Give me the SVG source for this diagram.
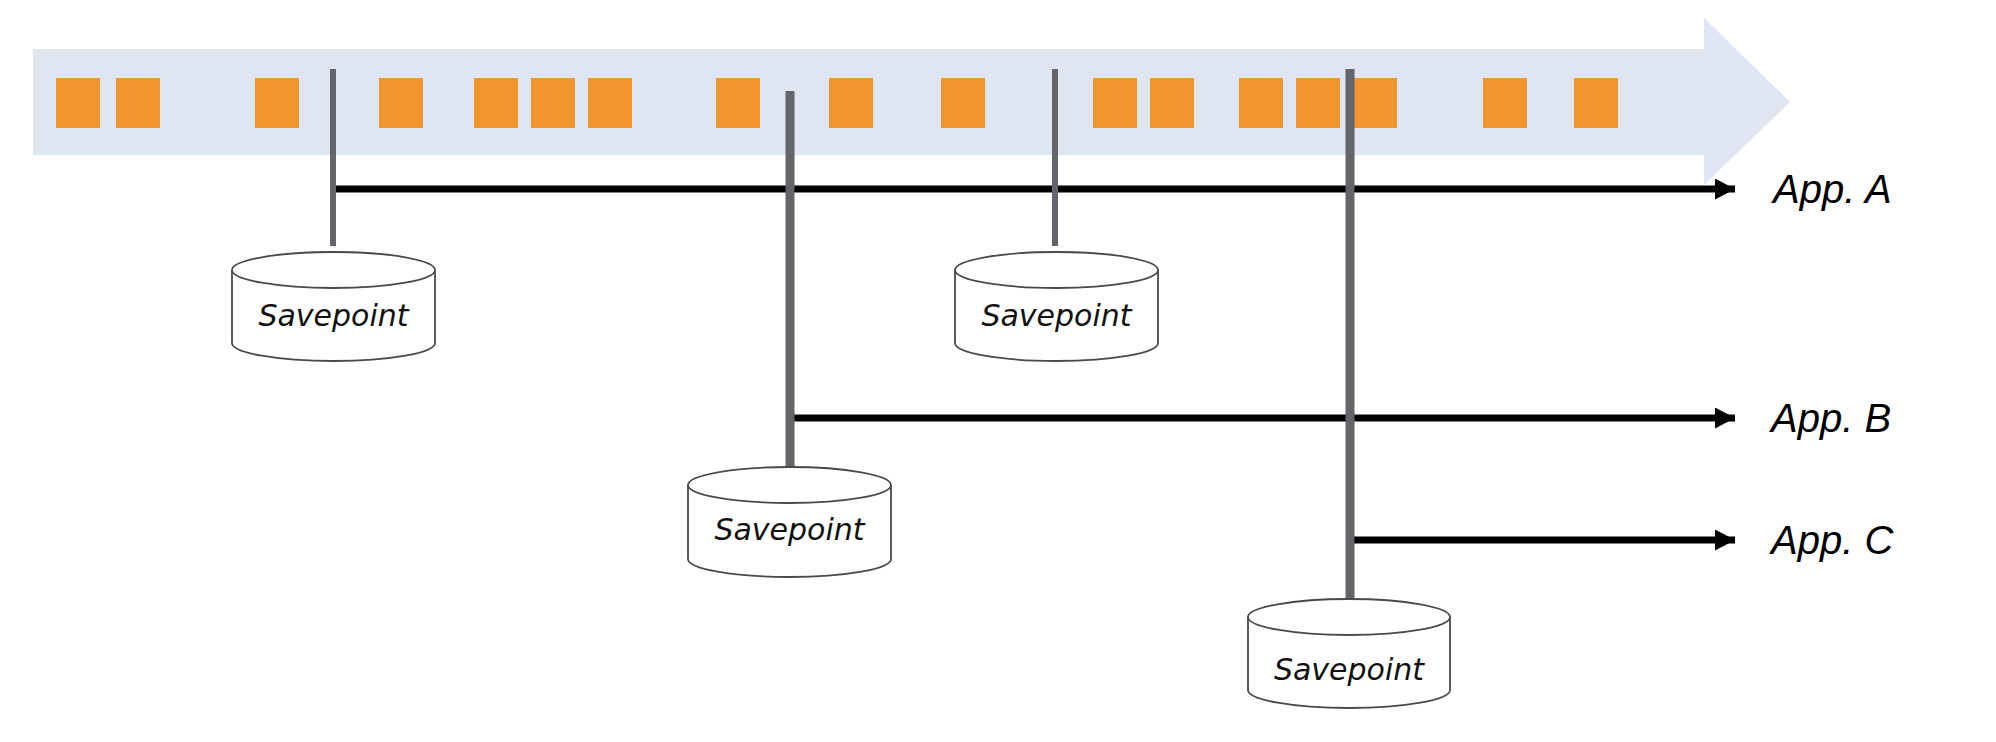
<svg xmlns="http://www.w3.org/2000/svg" width="1996" height="742" viewBox="0 0 1996 742">
<style>
.sq{fill:#f3952d}
.vl{stroke:#63656b;fill:none}
.hl{stroke:#000;stroke-width:7;fill:none}
.cyl{fill:#fff;stroke:#4a4a4a;stroke-width:1.8}
.sp{font-family:"DejaVu Sans",sans-serif;font-style:italic;font-size:30px;fill:#111;text-anchor:middle}
.app{font-family:"Liberation Sans",Arial,sans-serif;font-style:italic;font-size:40px;fill:#000}
</style>
<defs>
<marker id="ah" markerUnits="userSpaceOnUse" markerWidth="22" markerHeight="22" refX="20" refY="10.5" orient="auto">
<path d="M0,0 L20,10.5 L0,21 Z" fill="#000"/>
</marker>
</defs>
<rect width="1996" height="742" fill="#fff"/>
<g id="stream">
<path d="M33,49 L1704,49 L1704,18 L1790,102 L1704,185 L1704,155 L33,155 Z" fill="#dfe5f1"/>
<rect class="sq" x="56" y="78" width="44" height="50"/>
<rect class="sq" x="116" y="78" width="44" height="50"/>
<rect class="sq" x="255" y="78" width="44" height="50"/>
<rect class="sq" x="379" y="78" width="44" height="50"/>
<rect class="sq" x="474" y="78" width="44" height="50"/>
<rect class="sq" x="531" y="78" width="44" height="50"/>
<rect class="sq" x="588" y="78" width="44" height="50"/>
<rect class="sq" x="716" y="78" width="44" height="50"/>
<rect class="sq" x="829" y="78" width="44" height="50"/>
<rect class="sq" x="941" y="78" width="44" height="50"/>
<rect class="sq" x="1093" y="78" width="44" height="50"/>
<rect class="sq" x="1150" y="78" width="44" height="50"/>
<rect class="sq" x="1239" y="78" width="44" height="50"/>
<rect class="sq" x="1296" y="78" width="44" height="50"/>
<rect class="sq" x="1353" y="78" width="44" height="50"/>
<rect class="sq" x="1483" y="78" width="44" height="50"/>
<rect class="sq" x="1574" y="78" width="44" height="50"/>
</g>
<g id="connectors">
<line class="hl" x1="333" y1="189" x2="1735" y2="189" marker-end="url(#ah)"/>
<line class="hl" x1="790" y1="418" x2="1735" y2="418" marker-end="url(#ah)"/>
<line class="hl" x1="1350" y1="540" x2="1735" y2="540" marker-end="url(#ah)"/>
<line class="vl" x1="333" y1="69" x2="333" y2="246" stroke-width="6"/>
<line class="vl" x1="790" y1="91" x2="790" y2="467" stroke-width="9"/>
<line class="vl" x1="1055" y1="69" x2="1055" y2="246" stroke-width="6"/>
<line class="vl" x1="1350" y1="69" x2="1350" y2="599" stroke-width="9"/>
</g>
<g id="sp1">
<path class="cyl" d="M232,270 A101.5,18 0 0 1 435,270 L435,343 A101.5,18 0 0 1 232,343 Z"/>
<path class="cyl" d="M232,270 A101.5,18 0 0 0 435,270"/>
<text class="sp" x="333.5" y="326">Savepoint</text>
</g>
<g id="sp2">
<path class="cyl" d="M688,485 A101.5,18 0 0 1 891,485 L891,559 A101.5,18 0 0 1 688,559 Z"/>
<path class="cyl" d="M688,485 A101.5,18 0 0 0 891,485"/>
<text class="sp" x="789.5" y="540">Savepoint</text>
</g>
<g id="sp3">
<path class="cyl" d="M955,270 A101.5,18 0 0 1 1158,270 L1158,343 A101.5,18 0 0 1 955,343 Z"/>
<path class="cyl" d="M955,270 A101.5,18 0 0 0 1158,270"/>
<text class="sp" x="1056.5" y="326">Savepoint</text>
</g>
<g id="sp4">
<path class="cyl" d="M1248,617 A101,18 0 0 1 1450,617 L1450,690 A101,18 0 0 1 1248,690 Z"/>
<path class="cyl" d="M1248,617 A101,18 0 0 0 1450,617"/>
<text class="sp" x="1349" y="680">Savepoint</text>
</g>
<g id="appA"><text class="app" x="1773" y="203">App. A</text></g>
<g id="appB"><text class="app" x="1771" y="432">App. B</text></g>
<g id="appC"><text class="app" x="1771" y="554">App. C</text></g>
</svg>
